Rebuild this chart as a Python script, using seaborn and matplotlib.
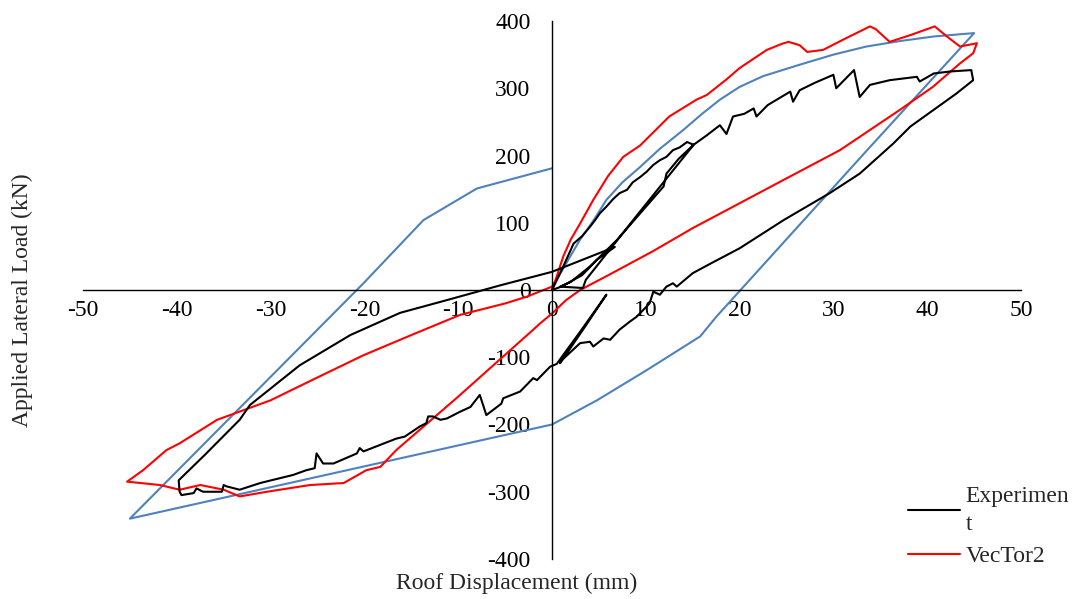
import matplotlib
matplotlib.use("Agg")
import matplotlib.pyplot as plt
import seaborn as sns
import pandas as pd
from matplotlib.lines import Line2D

# ---------------- data ----------------
exp_x = [0, 1.2, 2.3, 3.2, 4.05, 4.6, 5.1, 5.8, 6.5, 7.2, 8.0, 8.6, 9.4, 10.1, 10.8, 11.5,
         12.2, 12.9, 13.6, 14.4, 15.1,
         13.5, 12.2, 11.9, 9.4, 6.9, 4.05, 2.0, 0.85, 3.3, 3.6, 9.0, 15.1,
         15.8, 16.5, 17.9, 18.6, 19.3, 20.5, 21.5, 21.8, 23.0, 25.4, 25.7, 26.4, 28.0,
         30.0, 30.3, 31.0, 32.2, 32.8, 33.9, 36.0, 38.9, 39.2, 40.7, 42.5, 44.7, 44.9,
         43.1, 40.7, 38.2, 36.4, 32.8, 29.6, 24.7, 20.0, 17.0, 15.0, 13.3, 12.9, 12.2, 11.5,
         10.8, 10.4, 9.0, 8.3, 7.2, 6.2, 5.5, 4.4, 4.05, 3.0, 2.0, 1.0, 0.85,
         3.5, 5.8, 3.0, 0.5,
         -0.2, -1.6, -2.0, -3.4, -5.2, -5.4, -7.0, -7.7, -8.7, -9.8, -11.2, -11.9, -12.7,
         -13.2, -13.4, -14.1, -15.7, -16.6, -20.1, -20.5, -20.8, -23.3, -24.4, -25.1, -25.3,
         -26.2, -27.6, -31.1, -33.3, -34.7, -35.0, -35.2, -37.2, -37.9, -38.2, -39.5, -39.7,
         -39.8, -37.0, -33.3, -32.2, -26.9, -21.5, -16.2, -11.2, -5.5, 0.0, 6.7,
         4.8, 3.2, 1.0, 0.0]
exp_y = [0, 35, 69, 80, 94, 104, 114, 124, 135, 144, 149, 160, 168, 176, 186, 193,
         198, 208, 212, 220, 216,
         195, 173, 154, 114, 74, 35, 12, 5, 3, 15, 110, 216,
         223, 230, 245, 232, 258, 262, 270, 258, 275, 295, 280, 297, 308,
         320, 300, 310, 327, 287, 305, 312, 317, 310, 322, 325, 327, 312,
         292, 268, 243, 218, 173, 144, 104, 62, 40, 25, 5, 10, 5, -7,
         -2.5, -20, -40, -47, -59, -74, -72, -84, -77, -79, -92, -105, -109,
         -55, -7, -62, -110,
         -114, -134, -131, -151, -161, -169, -186, -156, -174, -181, -191, -193, -188,
         -188, -198, -203, -218, -221, -240, -235, -243, -258, -258, -243, -265,
         -268, -275, -287, -297, -292, -290, -300, -300, -295, -302, -305, -300,
         -283, -245, -193, -171, -112, -67, -34, -15, 7, 27, 64,
         45, 22, 5, 0]

vt_x = [0, 0.5, 1.2, 2.0, 3.0, 4.4, 6.0, 7.6, 9.4, 12.5, 15.4, 16.5, 18.5, 20.0, 22.9,
        24.5, 25.2, 26.4, 27.2, 28.9, 31.0, 33.9, 34.5, 36.0, 38.2, 40.8, 42.1, 43.5, 45.3,
        44.9, 43.5, 40.6, 37.1, 30.7, 25.0, 20.0, 15.0, 10.8, 6.0, 3.0, 1.5, 0.0, -1.3, -2.0,
        -10.2, -16.6, -18.3, -19.8, -22.2, -25.8, -30.4, -33.3, -35.0, -37.5, -39.7, -41.8,
        -45.3, -43.6, -41.1, -39.7, -35.7, -30.0, -25.0, -20.1, -15.0, -9.8, -5.0, -2.7,
        0.0, 0.3]
vt_y = [0, 20, 50, 75, 99, 134, 170, 198, 215, 258, 283, 290, 312, 330, 357,
        366, 369, 364, 354, 357, 372, 392, 388, 369, 379, 392, 377, 362, 367,
        352, 337, 302, 268, 208, 166, 129, 92, 58, 22, 0, -15, -35, -50, -59,
        -161, -238, -263, -268, -287, -290, -300, -307, -297, -290, -297, -290,
        -285, -268, -238, -228, -193, -164, -130, -97, -67, -37, -20, -10,
        5, 12]

ann_x = [0, 0.5, 1.92, 3.0, 4.5, 5.8, 7.5, 9.4, 11.5, 14.0, 16.0, 17.9, 20.0, 22.5,
         26.4, 30.0, 33.5, 37.0, 40.7, 45.0,
         33.6, 20.1, 17.5, 15.8, 10.0, 4.8, 0.0, -45.0, -20.1, -13.7, -8.0, 0.0]
ann_y = [0, 15, 49.5, 75, 105, 134, 160, 183, 210, 238, 262, 283, 302, 318,
         335, 350, 362, 370, 377, 382,
         208, 0, -40, -69, -120, -164, -200, -340, 10, 104, 151, 181]

x_ticks = list(range(-50, 51, 10))
y_ticks = list(range(-400, 401, 100))
series_labels = ["Experimen\nt", "VecTor2"]

# ---------------- style ----------------
sns.set_theme(style="white")
plt.rcParams["font.family"] = ["Liberation Serif", "DejaVu Serif"]
FS = 17

fig = plt.figure(figsize=(10.76, 5.99), dpi=100)
ax = fig.add_axes([83 / 1076, 1 - 559 / 599, (1021 - 83) / 1076, (559 - 21) / 599])

df_exp = pd.DataFrame({"x": exp_x, "y": exp_y})
df_vt = pd.DataFrame({"x": vt_x, "y": vt_y})
df_ann = pd.DataFrame({"x": ann_x, "y": ann_y})

LW = 1.5
sns.lineplot(data=df_ann, x="x", y="y", sort=False, estimator=None, color="#4F81BD",
             lw=LW, ax=ax, legend=False)
sns.lineplot(data=df_vt, x="x", y="y", sort=False, estimator=None, color="#FF0000",
             lw=LW, ax=ax, legend=False)
sns.lineplot(data=df_exp, x="x", y="y", sort=False, estimator=None, color="black",
             lw=LW, ax=ax, legend=False)

ax.set_xlim(-50, 50)
ax.set_ylim(-400, 400)
ax.set_xticks(x_ticks)
ax.set_yticks(y_ticks)
ax.set_xticklabels([str(t) for t in x_ticks])
ax.set_yticklabels([str(t) for t in y_ticks])
ax.set_xlabel("")
ax.set_ylabel("")

for s in ["top", "right"]:
    ax.spines[s].set_visible(False)
ax.spines["left"].set_position(("data", 0))
ax.spines["bottom"].set_position(("data", 0))
for s in ["left", "bottom"]:
    ax.spines[s].set_color("black")
    ax.spines[s].set_linewidth(1.0)
ax.tick_params(axis="both", direction="inout", length=9, width=1.0, color="black",
               labelcolor="black", labelsize=FS)
ax.tick_params(axis="x", pad=3)
ax.tick_params(axis="y", pad=11)
ax.patch.set_alpha(0)

fig.text(517 / 1076, 1 - 583 / 599, "Roof Displacement (mm)", ha="center", va="center",
         fontsize=FS)
fig.text(22 / 1076, 1 - 300 / 599, "Applied Lateral Load (kN)", ha="center", va="center",
         rotation=90, fontsize=FS)

handles = [Line2D([], [], color="black", lw=LW), Line2D([], [], color="#FF0000", lw=LW)]
leg = fig.legend(handles, series_labels, loc="upper left",
                 bbox_to_anchor=(908 / 1076, 1 - 486 / 599), frameon=False,
                 fontsize=FS, handlelength=2.2, handletextpad=0.25, borderpad=0,
                 borderaxespad=0, labelspacing=0.45)
for t in leg.get_texts():
    t.set_linespacing(1.45)

fig.savefig("out.png", dpi=100)
